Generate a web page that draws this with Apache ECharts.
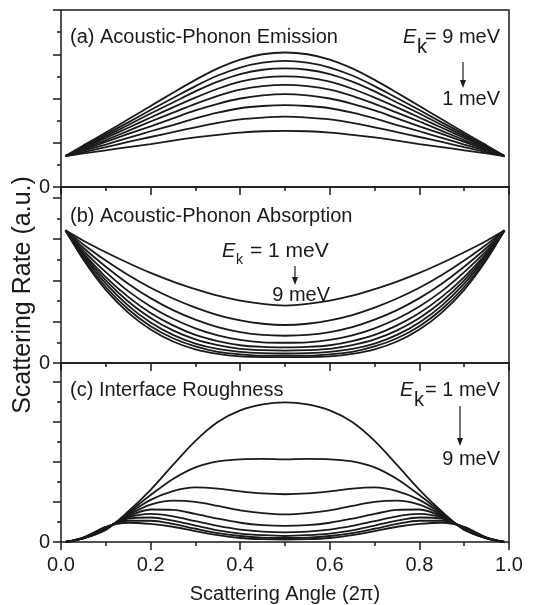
<!DOCTYPE html>
<html>
<head>
<meta charset="utf-8">
<script src="https://cdn.jsdelivr.net/npm/echarts@6/dist/echarts.min.js"></script>
<style>
  html, body { margin: 0; padding: 0; background: #fff; }
  #chart { width: 540px; height: 605px; }
</style>
</head>
<body>
<div id="chart"></div>
<script>
// scattering angle in units of 2π
const angle = [0.01, 0.05, 0.10, 0.15, 0.20, 0.25, 0.30, 0.35, 0.40, 0.45, 0.50,
               0.55, 0.60, 0.65, 0.70, 0.75, 0.80, 0.85, 0.90, 0.95, 0.99];

// (a) acoustic-phonon emission, Ek = 9 meV (top) ... 1 meV (bottom)
const emis9 = [0.70, 0.94, 1.23, 1.53, 1.83, 2.13, 2.42, 2.68, 2.88, 3.00, 3.04, 3.00, 2.88, 2.68, 2.42, 2.13, 1.83, 1.53, 1.23, 0.94, 0.70];
const emis8 = [0.70, 0.92, 1.19, 1.46, 1.74, 2.01, 2.28, 2.52, 2.70, 2.81, 2.85, 2.81, 2.70, 2.52, 2.28, 2.01, 1.74, 1.46, 1.19, 0.92, 0.70];
const emis7 = [0.70, 0.90, 1.15, 1.40, 1.66, 1.91, 2.16, 2.38, 2.55, 2.65, 2.68, 2.65, 2.55, 2.38, 2.16, 1.91, 1.66, 1.40, 1.15, 0.90, 0.70];
const emis6 = [0.70, 0.89, 1.11, 1.34, 1.57, 1.80, 2.02, 2.22, 2.38, 2.47, 2.50, 2.47, 2.38, 2.22, 2.02, 1.80, 1.57, 1.34, 1.11, 0.89, 0.70];
const emis5 = [0.70, 0.87, 1.06, 1.27, 1.48, 1.68, 1.88, 2.06, 2.20, 2.28, 2.31, 2.28, 2.20, 2.06, 1.88, 1.68, 1.48, 1.27, 1.06, 0.87, 0.70];
const emis4 = [0.70, 0.84, 1.02, 1.20, 1.37, 1.55, 1.73, 1.88, 2.00, 2.07, 2.10, 2.07, 2.00, 1.88, 1.73, 1.55, 1.37, 1.20, 1.02, 0.84, 0.70];
const emis3 = [0.70, 0.82, 0.96, 1.11, 1.26, 1.40, 1.55, 1.68, 1.78, 1.83, 1.85, 1.83, 1.78, 1.68, 1.55, 1.40, 1.26, 1.11, 0.96, 0.82, 0.70];
const emis2 = [0.70, 0.79, 0.90, 1.02, 1.13, 1.24, 1.35, 1.45, 1.53, 1.57, 1.59, 1.57, 1.53, 1.45, 1.35, 1.24, 1.13, 1.02, 0.90, 0.79, 0.70];
const emis1 = [0.70, 0.76, 0.83, 0.90, 0.97, 1.05, 1.12, 1.18, 1.23, 1.26, 1.27, 1.26, 1.23, 1.18, 1.12, 1.05, 0.97, 0.90, 0.83, 0.76, 0.70];

// (b) acoustic-phonon absorption, Ek = 1 meV (top) ... 9 meV (bottom)
const abs1 = [3.21, 2.96, 2.68, 2.42, 2.18, 1.97, 1.79, 1.63, 1.51, 1.43, 1.39, 1.43, 1.51, 1.63, 1.79, 1.97, 2.18, 2.42, 2.68, 2.96, 3.21];
const abs2 = [3.21, 2.87, 2.48, 2.13, 1.82, 1.56, 1.34, 1.16, 1.03, 0.95, 0.92, 0.95, 1.03, 1.16, 1.34, 1.56, 1.82, 2.13, 2.48, 2.87, 3.21];
const abs3 = [3.21, 2.79, 2.33, 1.92, 1.57, 1.28, 1.05, 0.87, 0.75, 0.68, 0.66, 0.68, 0.75, 0.87, 1.05, 1.28, 1.57, 1.92, 2.33, 2.79, 3.21];
const abs4 = [3.21, 2.72, 2.20, 1.74, 1.37, 1.07, 0.84, 0.67, 0.56, 0.50, 0.49, 0.50, 0.56, 0.67, 0.84, 1.07, 1.37, 1.74, 2.20, 2.72, 3.21];
const abs5 = [3.21, 2.66, 2.08, 1.60, 1.21, 0.91, 0.68, 0.53, 0.43, 0.39, 0.38, 0.39, 0.43, 0.53, 0.68, 0.91, 1.21, 1.60, 2.08, 2.66, 3.21];
const abs6 = [3.21, 2.62, 2.00, 1.49, 1.09, 0.79, 0.57, 0.43, 0.34, 0.31, 0.30, 0.31, 0.34, 0.43, 0.57, 0.79, 1.09, 1.49, 2.00, 2.62, 3.21];
const abs7 = [3.21, 2.58, 1.92, 1.39, 0.98, 0.68, 0.47, 0.34, 0.27, 0.24, 0.23, 0.24, 0.27, 0.34, 0.47, 0.68, 0.98, 1.39, 1.92, 2.58, 3.21];
const abs8 = [3.21, 2.53, 1.84, 1.30, 0.89, 0.60, 0.40, 0.27, 0.21, 0.18, 0.18, 0.18, 0.21, 0.27, 0.40, 0.60, 0.89, 1.30, 1.84, 2.53, 3.21];
const abs9 = [3.21, 2.50, 1.77, 1.22, 0.81, 0.52, 0.33, 0.22, 0.16, 0.14, 0.14, 0.14, 0.16, 0.22, 0.33, 0.52, 0.81, 1.22, 1.77, 2.50, 3.21];

// (c) interface roughness, Ek = 1 meV (top) ... 9 meV (bottom)
const ir1 = [0.00, 0.09, 0.30, 0.76, 1.30, 1.92, 2.52, 2.99, 3.28, 3.43, 3.48, 3.43, 3.28, 2.99, 2.52, 1.92, 1.30, 0.76, 0.30, 0.09, 0.00];
const ir2 = [0.00, 0.09, 0.31, 0.73, 1.17, 1.57, 1.86, 2.01, 2.06, 2.07, 2.06, 2.07, 2.06, 2.01, 1.86, 1.57, 1.17, 0.73, 0.31, 0.09, 0.00];
const ir3 = [0.00, 0.09, 0.32, 0.70, 1.05, 1.27, 1.36, 1.33, 1.26, 1.21, 1.19, 1.21, 1.26, 1.33, 1.36, 1.27, 1.05, 0.70, 0.32, 0.09, 0.00];
const ir4 = [0.00, 0.10, 0.33, 0.67, 0.93, 1.03, 1.00, 0.90, 0.79, 0.72, 0.69, 0.72, 0.79, 0.90, 1.00, 1.03, 0.93, 0.67, 0.33, 0.10, 0.00];
const ir5 = [0.00, 0.10, 0.34, 0.64, 0.81, 0.80, 0.70, 0.58, 0.48, 0.42, 0.40, 0.42, 0.48, 0.58, 0.70, 0.80, 0.81, 0.64, 0.34, 0.10, 0.00];
const ir6 = [0.00, 0.10, 0.35, 0.61, 0.70, 0.64, 0.52, 0.40, 0.31, 0.26, 0.24, 0.26, 0.31, 0.40, 0.52, 0.64, 0.70, 0.61, 0.35, 0.10, 0.00];
const ir7 = [0.00, 0.11, 0.36, 0.58, 0.61, 0.53, 0.41, 0.29, 0.21, 0.17, 0.15, 0.17, 0.21, 0.29, 0.41, 0.53, 0.61, 0.58, 0.36, 0.11, 0.00];
const ir8 = [0.00, 0.11, 0.37, 0.53, 0.53, 0.45, 0.33, 0.22, 0.15, 0.11, 0.10, 0.11, 0.15, 0.22, 0.33, 0.45, 0.53, 0.53, 0.37, 0.11, 0.00];
const ir9 = [0.00, 0.11, 0.38, 0.48, 0.45, 0.38, 0.27, 0.17, 0.10, 0.07, 0.06, 0.07, 0.10, 0.17, 0.27, 0.38, 0.45, 0.48, 0.38, 0.11, 0.00];

const panels = [
  [emis9, emis8, emis7, emis6, emis5, emis4, emis3, emis2, emis1],
  [abs1, abs2, abs3, abs4, abs5, abs6, abs7, abs8, abs9],
  [ir1, ir2, ir3, ir4, ir5, ir6, ir7, ir8, ir9],
];
const xTicks = ["0.0", "0.2", "0.4", "0.6", "0.8", "1.0"];
const yTop = [4, 4.26, 4.46];

const FONT = "'Liberation Sans', Arial, sans-serif";
const INK = "#1a1a1a";

// panel layout (px)
const gridBoxes = [
  { left: 61, top: 10, width: 448, height: 177 },
  { left: 61, top: 187, width: 448, height: 176 },
  { left: 61, top: 363, width: 448, height: 179 },
];

const grid = gridBoxes.map((g) => ({
  ...g,
  show: true,
  borderColor: INK,
  borderWidth: 1.5,
  backgroundColor: "transparent",
}));

const xAxis = gridBoxes.map((_, i) => ({
  type: "value",
  gridIndex: i,
  min: 0,
  max: 1,
  interval: 0.2,
  axisLine: { show: false },
  axisTick: { inside: false, length: 8, lineStyle: { color: INK, width: 1.5 } },
  minorTick: { show: true, splitNumber: 2, length: 4, lineStyle: { color: INK, width: 1.5 } },
  splitLine: { show: false },
  axisLabel: {
    show: i === 2,
    margin: 13,
    fontSize: 20,
    fontFamily: FONT,
    color: INK,
    formatter: (v) => xTicks[Math.round(v / 0.2)],
  },
  name: i === 2 ? "Scattering Angle (2\u03c0)" : "",
  nameLocation: "middle",
  nameGap: 42,
  nameTextStyle: { fontSize: 20, fontFamily: FONT, color: INK },
}));

const yAxis = gridBoxes.map((_, i) => ({
  type: "value",
  gridIndex: i,
  min: 0,
  max: yTop[i],
  interval: 1,
  axisLine: { show: false },
  axisTick: { inside: false, length: 8, lineStyle: { color: INK, width: 1.5 } },
  minorTick: { show: true, splitNumber: 2, length: 4, lineStyle: { color: INK, width: 1.5 } },
  splitLine: { show: false },
  axisLabel: {
    margin: 11,
    fontSize: 20,
    fontFamily: FONT,
    color: INK,
    formatter: (v) => (v === 0 ? "0" : ""),
  },
}));

const series = [];
panels.forEach((curves, i) => {
  curves.forEach((vals) => {
    series.push({
      type: "line",
      xAxisIndex: i,
      yAxisIndex: i,
      showSymbol: false,
      smooth: 0.3,
      silent: true,
      lineStyle: { color: INK, width: 1.8 },
      data: angle.map((x, j) => [x, vals[j]]),
    });
  });
});

// text helpers for annotations
const txt = (text, x, y, opts = {}) => ({
  type: "text",
  x,
  y,
  silent: true,
  style: {
    text,
    fontSize: 20,
    fontFamily: FONT,
    fill: INK,
    align: "left",
    verticalAlign: "middle",
    ...opts,
  },
});
const arrow = (x, y1, y2) => [
  { type: "line", silent: true, shape: { x1: x, y1, x2: x, y2: y2 - 6 }, style: { stroke: INK, lineWidth: 1.2 } },
  { type: "polygon", silent: true, shape: { points: [[x - 3, y2 - 8], [x + 3, y2 - 8], [x, y2]] }, style: { fill: INK } },
];

const yTitle = txt("Scattering Rate (a.u.)", 23, 295, { align: "center", fontSize: 25 });
yTitle.rotation = Math.PI / 2;

const graphic = [
  txt("(a) Acoustic-Phonon Emission", 70, 37),
  txt("E", 403, 37, { fontStyle: "italic" }),
  txt("k", 417, 47),
  txt("= 9 meV", 500, 37, { align: "right" }),
  ...arrow(463, 62, 88),
  txt("1 meV", 500, 99, { align: "right" }),

  txt("(b) Acoustic-Phonon Absorption", 70, 216),
  txt("E", 222, 251, { fontStyle: "italic" }),
  txt("k", 236, 260, { fontSize: 14 }),
  txt("= 1 meV", 250, 251, { fontSize: 21 }),
  ...arrow(295, 266, 285),
  txt("9 meV", 330, 295, { align: "right" }),

  txt("(c) Interface Roughness", 70, 390),
  txt("E", 400, 390, { fontStyle: "italic" }),
  txt("k", 414, 400),
  txt("= 1 meV", 500, 390, { align: "right" }),
  ...arrow(460, 406, 446),
  txt("9 meV", 500, 459, { align: "right" }),

  yTitle,
];

const chart = echarts.init(document.getElementById("chart"));
chart.setOption({
  animation: false,
  grid,
  xAxis,
  yAxis,
  series,
  graphic,
});
</script>
</body>
</html>
